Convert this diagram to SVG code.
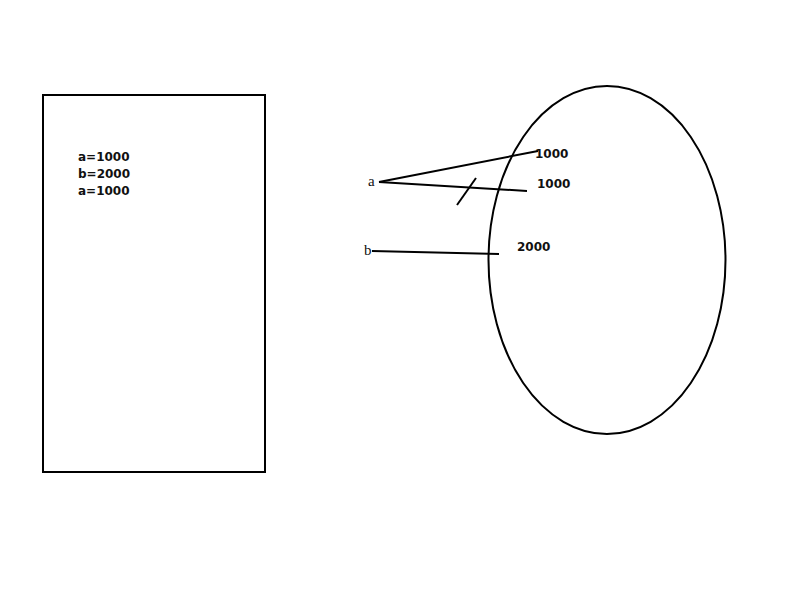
<svg xmlns="http://www.w3.org/2000/svg" width="800" height="600" viewBox="0 0 800 600">
<style>
.s{fill:none;stroke:#000;stroke-width:2}
.t{font-family:"DejaVu Sans",Verdana,sans-serif;font-weight:bold;font-size:12px;fill:#111}
.v{font-family:"Liberation Serif","Times New Roman",serif;font-size:15px;fill:#111}
</style>
<rect width="800" height="600" fill="#fff"/>
<g id="stack">
<rect class="s" x="43" y="95" width="222" height="377"/>
<text class="t" x="78" y="161">a=1000</text>
<text class="t" x="78" y="178">b=2000</text>
<text class="t" x="78" y="195">a=1000</text>
</g>
<g id="heap">
<ellipse class="s" cx="607" cy="260" rx="118.5" ry="174"/>
<text class="t" x="535" y="158">1000</text>
<text class="t" x="537" y="188">1000</text>
<text class="t" x="517" y="251">2000</text>
</g>
<g id="var-a"><text class="v" x="368" y="186">a</text></g>
<g id="var-b"><text class="v" x="364" y="255">b</text></g>
<g id="connectors">
<line class="s" x1="379" y1="182" x2="538" y2="151"/>
<line class="s" x1="379" y1="182" x2="527" y2="191"/>
<line class="s" x1="457" y1="205" x2="476" y2="178"/>
<line class="s" x1="372" y1="251" x2="499" y2="254"/>
</g>
</svg>
